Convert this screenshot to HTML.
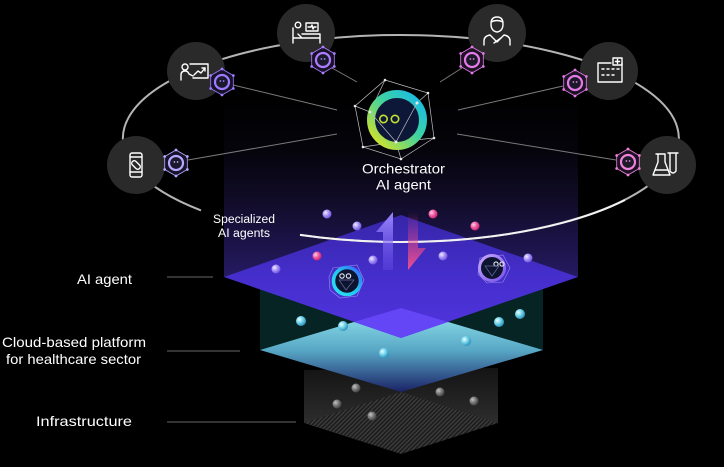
<!DOCTYPE html>
<html><head><meta charset="utf-8">
<style>
html,body{margin:0;padding:0;background:#000;}
svg{display:block;}
text{font-family:"Liberation Sans",sans-serif;fill:#fff;}
</style></head>
<body>
<svg width="724" height="467" viewBox="0 0 724 467" xmlns="http://www.w3.org/2000/svg">
<defs>
  <linearGradient id="boxG" x1="0" y1="0" x2="0" y2="1">
    <stop offset="0" stop-color="#000"/>
    <stop offset="0.3" stop-color="#05040b"/>
    <stop offset="0.55" stop-color="#100b24"/>
    <stop offset="0.8" stop-color="#1b1346"/>
    <stop offset="1" stop-color="#251a62"/>
  </linearGradient>
  <linearGradient id="purD" x1="0" y1="215" x2="0" y2="338" gradientUnits="userSpaceOnUse">
    <stop offset="0" stop-color="#3626a8"/>
    <stop offset="0.5" stop-color="#452ecc"/>
    <stop offset="1" stop-color="#5034de"/>
  </linearGradient>
  <linearGradient id="cyD" x1="0" y1="308" x2="0" y2="392" gradientUnits="userSpaceOnUse">
    <stop offset="0" stop-color="#94e6ee"/>
    <stop offset="0.5" stop-color="#58a8c6"/>
    <stop offset="1" stop-color="#1b2266"/>
  </linearGradient>
  <linearGradient id="infG" x1="0" y1="0" x2="0" y2="1">
    <stop offset="0" stop-color="#141414"/>
    <stop offset="1" stop-color="#2d2d2d"/>
  </linearGradient>
  <pattern id="hatch" width="3" height="3" patternUnits="userSpaceOnUse" patternTransform="rotate(45)">
    <rect width="3" height="3" fill="#1c1c1c"/>
    <rect width="1.3" height="3" fill="#3e3e3e"/>
  </pattern>
  <radialGradient id="sLav" cx="0.35" cy="0.35" r="0.7">
    <stop offset="0" stop-color="#f2eeff"/>
    <stop offset="0.5" stop-color="#a690f7"/>
    <stop offset="1" stop-color="#6a50d6"/>
  </radialGradient>
  <radialGradient id="sPink" cx="0.35" cy="0.35" r="0.7">
    <stop offset="0" stop-color="#ffd0e6"/>
    <stop offset="0.5" stop-color="#f05aa0"/>
    <stop offset="1" stop-color="#c02070"/>
  </radialGradient>
  <radialGradient id="sCy" cx="0.35" cy="0.35" r="0.7">
    <stop offset="0" stop-color="#f0fdff"/>
    <stop offset="0.5" stop-color="#6cd2ea"/>
    <stop offset="1" stop-color="#2a8ab4"/>
  </radialGradient>
  <radialGradient id="sGr" cx="0.35" cy="0.35" r="0.7">
    <stop offset="0" stop-color="#c4c4c4"/>
    <stop offset="0.5" stop-color="#777"/>
    <stop offset="1" stop-color="#3c3c3c"/>
  </radialGradient>
  <linearGradient id="orRing" x1="1" y1="0" x2="0" y2="1">
    <stop offset="0" stop-color="#16b8f0"/>
    <stop offset="0.45" stop-color="#3fd3a0"/>
    <stop offset="1" stop-color="#e6e41c"/>
  </linearGradient>
  <linearGradient id="cyRing" x1="1" y1="0" x2="0" y2="1">
    <stop offset="0" stop-color="#3a62ff"/>
    <stop offset="0.5" stop-color="#22c8f0"/>
    <stop offset="1" stop-color="#2ee0f0"/>
  </linearGradient>
  <linearGradient id="puRing" x1="0" y1="0" x2="1" y2="1">
    <stop offset="0" stop-color="#c8a8ff"/>
    <stop offset="1" stop-color="#7a52e8"/>
  </linearGradient>
  <linearGradient id="upA" x1="0" y1="212" x2="0" y2="270" gradientUnits="userSpaceOnUse">
    <stop offset="0" stop-color="#9c88ff"/>
    <stop offset="1" stop-color="#6a50f0" stop-opacity="0.35"/>
  </linearGradient>
  <linearGradient id="dnA" x1="0" y1="212" x2="0" y2="270" gradientUnits="userSpaceOnUse">
    <stop offset="0" stop-color="#e04080" stop-opacity="0"/>
    <stop offset="1" stop-color="#ec4f8e"/>
  </linearGradient>
</defs>

<rect width="724" height="467" fill="#000"/>

<!-- Infrastructure -->
<polygon points="304,370 498,368 498,423 304,423" fill="url(#infG)"/>
<polygon points="304,423 401,392 498,423 401,454" fill="url(#hatch)"/>

<!-- Cloud layer -->
<polygon points="260,282 543,282 543,350 260,350" fill="#052423"/>
<polygon points="260,350 401,308 543,350 401,392" fill="url(#cyD)"/>

<!-- Purple box -->
<rect x="224" y="95" width="354" height="182" fill="url(#boxG)"/>
<polygon points="224,277 401,215 578,277 401,338" fill="url(#purD)"/>
<polygon points="401,308 354,322 401,338 448,322" fill="#6446f6"/>

<!-- grey spheres -->
<g fill="url(#sGr)">
  <circle cx="356" cy="388" r="4.5"/><circle cx="337" cy="404" r="4.5"/>
  <circle cx="372" cy="416" r="4.5"/><circle cx="440" cy="392" r="4.5"/>
  <circle cx="474" cy="401" r="4.5"/>
</g>
<!-- cyan spheres -->
<g fill="url(#sCy)">
  <circle cx="301" cy="321" r="5"/><circle cx="343" cy="326" r="5"/>
  <circle cx="384" cy="353" r="5"/><circle cx="466" cy="341" r="5"/>
  <circle cx="499" cy="322" r="5"/><circle cx="520" cy="314" r="5"/>
</g>

<!-- leader lines -->
<g stroke="#444" stroke-width="1.5">
  <line x1="167" y1="277" x2="213" y2="277"/>
  <line x1="167" y1="351" x2="240" y2="351"/>
  <line x1="167" y1="422" x2="296" y2="422"/>
</g>

<!-- ellipse -->
<path d="M300 234.9 A278 103.5 0 1 0 201 210.4" fill="none" stroke="#b4b4b4" stroke-width="2"/>
<path d="M300 234.9 A278 103.5 0 0 0 625 200" fill="none" stroke="#f2f2f2" stroke-width="2"/>

<!-- spheres on purple -->
<g fill="url(#sLav)">
  <circle cx="327" cy="214" r="4.5"/><circle cx="357" cy="226" r="4.5"/>
  <circle cx="373" cy="260" r="4.5"/><circle cx="443" cy="256" r="4.5"/>
  <circle cx="528" cy="258" r="4.5"/><circle cx="276" cy="269" r="4.5"/>
</g>
<g fill="url(#sPink)">
  <circle cx="433" cy="214" r="4.5"/><circle cx="475" cy="226" r="4.5"/>
  <circle cx="317" cy="256" r="4.5"/>
</g>

<!-- arrows -->
<polygon points="393,212 393,270 383,270 383,232 376,232" fill="url(#upA)"/>
<polygon points="408,212 418,212 418,248 426,248 408,270" fill="url(#dnA)"/>

<!-- agents on diamond -->
<g stroke="#a89cf0" stroke-width="0.6" fill="none" opacity="0.85">
  <polygon points="333,268 357,265 364,280 357,296 340,298 330,290 329,277"/>
  <polygon points="480,258 503,255 510,268 503,282 487,283 478,274"/>
</g>
<circle cx="347" cy="281" r="13.5" fill="#0c1430" stroke="url(#cyRing)" stroke-width="3.6"/>
<g stroke="#e6e6f0" stroke-width="1.1" fill="none">
  <circle cx="342" cy="276" r="2.2"/><circle cx="348.5" cy="276" r="2.2"/>
</g>
<polygon points="339,280 354,280 346,290" fill="none" stroke="#6a6a9a" stroke-width="0.7"/>
<circle cx="492" cy="268" r="12.5" fill="#0c1430" stroke="url(#puRing)" stroke-width="3"/>
<g stroke="#e6e6f0" stroke-width="1.1" fill="none">
  <circle cx="496" cy="264" r="2.1"/><circle cx="502" cy="264" r="2.1"/>
</g>
<polygon points="485,266 499,266 492,276" fill="none" stroke="#6a6a9a" stroke-width="0.7"/>

<!-- connectors to orchestrator -->
<g stroke="#7a7a7a" stroke-width="1">
  <line x1="233" y1="85" x2="337" y2="110"/>
  <line x1="188" y1="160" x2="337" y2="134"/>
  <line x1="332" y1="68" x2="357" y2="82"/>
  <line x1="462" y1="68" x2="440" y2="82"/>
  <line x1="563" y1="86" x2="458" y2="110"/>
  <line x1="616" y1="160" x2="457" y2="134"/>
</g>

<!-- orchestrator -->
<g stroke="#bfbfbf" stroke-width="0.7" fill="none">
  <polygon points="385,80 428,93 434,138 401,159 363,147 355,106"/>
  <polygon points="370,112 417,103 396,142"/>
  <line x1="385" y1="80" x2="370" y2="112"/>
  <line x1="428" y1="93" x2="417" y2="103"/>
  <line x1="363" y1="147" x2="396" y2="142"/>
  <line x1="396" y1="142" x2="401" y2="159"/>
  <line x1="396" y1="142" x2="434" y2="138"/>
  <line x1="355" y1="106" x2="370" y2="112"/>
</g>
<circle cx="397" cy="120" r="26" fill="#0d1838" stroke="url(#orRing)" stroke-width="8"/>
<g stroke="#bfbfbf" stroke-width="0.7" fill="none">
  <polyline points="370,112 396,142 417,103"/>
</g>
<g fill="#e8e8e8">
  <circle cx="385" cy="80" r="1.3"/><circle cx="428" cy="93" r="1.3"/><circle cx="355" cy="106" r="1.3"/>
  <circle cx="370" cy="112" r="1.3"/><circle cx="417" cy="103" r="1.5"/><circle cx="434" cy="138" r="1.3"/>
  <circle cx="363" cy="147" r="1.3"/><circle cx="396" cy="142" r="1.5"/><circle cx="401" cy="159" r="1.3"/>
</g>
<g stroke="#c2e030" stroke-width="1.6" fill="none">
  <circle cx="383.5" cy="119" r="3.7"/><circle cx="395" cy="119" r="3.7"/>
</g>
<text x="403.5" y="173.5" font-size="14" text-anchor="middle" textLength="83" lengthAdjust="spacingAndGlyphs">Orchestrator</text>
<text x="403.5" y="189.5" font-size="14" text-anchor="middle" textLength="55" lengthAdjust="spacingAndGlyphs">AI agent</text>

<text x="244" y="223" font-size="11.5" text-anchor="middle" textLength="62" lengthAdjust="spacingAndGlyphs">Specialized</text>
<text x="244" y="237" font-size="11.5" text-anchor="middle" textLength="52" lengthAdjust="spacingAndGlyphs">AI agents</text>

<!-- left labels -->
<text x="77" y="284" font-size="14" textLength="55" lengthAdjust="spacingAndGlyphs">AI agent</text>
<text x="2" y="347" font-size="14" textLength="144" lengthAdjust="spacingAndGlyphs">Cloud-based platform</text>
<text x="6" y="364" font-size="14" textLength="135" lengthAdjust="spacingAndGlyphs">for healthcare sector</text>
<text x="36" y="426" font-size="14" textLength="96" lengthAdjust="spacingAndGlyphs">Infrastructure</text>

<!-- icon circles -->
<g fill="#2a2a2a">
  <circle cx="136" cy="165" r="29"/>
  <circle cx="196" cy="71" r="29"/>
  <circle cx="306" cy="33" r="29"/>
  <circle cx="497" cy="33" r="29"/>
  <circle cx="609" cy="71" r="29"/>
  <circle cx="667" cy="165" r="29"/>
</g>

<!-- icons -->
<g stroke="#fff" stroke-width="1.4" fill="none" stroke-linecap="round" stroke-linejoin="round">
  <!-- phone -->
  <rect x="130" y="153" width="12" height="24" rx="2"/>
  <line x1="130" y1="157" x2="142" y2="157"/>
  <line x1="130" y1="172" x2="142" y2="172"/>
  <rect x="133.5" y="160" width="5" height="10" rx="2.5" transform="rotate(-45 136 165)"/>
  <!-- presentation -->
  <circle cx="185" cy="67" r="3"/>
  <path d="M181 80 V75 Q181 71 185 71 Q188 71 189 74 L193 76"/>
  <path d="M190 64 H208 V78 H193"/>
  <polyline points="194,75 198,71 201,73 205,68"/>
  <polyline points="202,68 205,68 205,71"/>
  <!-- bed -->
  <circle cx="298" cy="25" r="2.8"/>
  <rect x="306" y="23" width="12" height="8"/>
  <polyline points="308,27 311,27 312,25 313,29 314,27 316,27"/>
  <path d="M293 28 V43 M293 38 H320 M320 34 V43 M298 34 L302 38 M302 34 H320"/>
  <!-- doctor -->
  <path d="M491 24 Q491 17 497 17 Q503 17 503 24 Q503 31 497 32 Q491 31 491 24 Z"/>
  <path d="M491 22 Q497 19 503 22"/>
  <path d="M484 45 V41 Q484 36 490 35 L497 42 L504 35 Q510 36 510 41 V45"/>
  <path d="M494 43 L501 38"/>
  <!-- building -->
  <path d="M611 63 H598 V82 H622 V63"/>
  <rect x="613" y="58" width="9" height="7"/>
  <path d="M617.5 59.5 V63.5 M615.5 61.5 H619.5"/>
  <path d="M602 69 H604 M607 69 H609 M612 69 H614 M617 69 H619 M602 75 H604 M607 75 H609 M612 75 H614"/>
  <!-- lab -->
  <path d="M656 154 H665 M658 154 V162 L653 175 H670 L665 162 V154"/>
  <path d="M655 170 H668"/>
  <path d="M670 153 V171 Q673 175 676 171 V153 M668 153 H678"/>
</g>

<!-- hex badges -->
<g id="badges">
  <g transform="translate(176,163)" stroke="#b9a8ff">
    <polygon points="0,-13 11.3,-6.5 11.3,6.5 0,13 -11.3,6.5 -11.3,-6.5" fill="#16122a" stroke-width="0.8"/>
    <g fill="#b9a8ff" stroke="none"><circle cx="0" cy="-13" r="1.4"/><circle cx="11.3" cy="-6.5" r="1.4"/><circle cx="11.3" cy="6.5" r="1.4"/><circle cx="0" cy="13" r="1.4"/><circle cx="-11.3" cy="6.5" r="1.4"/><circle cx="-11.3" cy="-6.5" r="1.4"/></g>
    <circle r="7" fill="#1a1a2c" stroke-width="2.2"/>
    <g fill="#b9a8ff" stroke="none"><circle cx="-1.6" cy="-1" r="0.9"/><circle cx="1.6" cy="-1" r="0.9"/></g>
  </g>
  <g transform="translate(222,82)" stroke="#9f7bff">
    <polygon points="0,-13 11.3,-6.5 11.3,6.5 0,13 -11.3,6.5 -11.3,-6.5" fill="#16122a" stroke-width="0.8"/>
    <g fill="#9f7bff" stroke="none"><circle cx="0" cy="-13" r="1.4"/><circle cx="11.3" cy="-6.5" r="1.4"/><circle cx="11.3" cy="6.5" r="1.4"/><circle cx="0" cy="13" r="1.4"/><circle cx="-11.3" cy="6.5" r="1.4"/><circle cx="-11.3" cy="-6.5" r="1.4"/></g>
    <circle r="7" fill="#1a1a2c" stroke-width="2.2"/>
    <g fill="#9f7bff" stroke="none"><circle cx="-1.6" cy="-1" r="0.9"/><circle cx="1.6" cy="-1" r="0.9"/></g>
  </g>
  <g transform="translate(323,60)" stroke="#b07cff">
    <polygon points="0,-13 11.3,-6.5 11.3,6.5 0,13 -11.3,6.5 -11.3,-6.5" fill="#16122a" stroke-width="0.8"/>
    <g fill="#b07cff" stroke="none"><circle cx="0" cy="-13" r="1.4"/><circle cx="11.3" cy="-6.5" r="1.4"/><circle cx="11.3" cy="6.5" r="1.4"/><circle cx="0" cy="13" r="1.4"/><circle cx="-11.3" cy="6.5" r="1.4"/><circle cx="-11.3" cy="-6.5" r="1.4"/></g>
    <circle r="7" fill="#1a1a2c" stroke-width="2.2"/>
    <g fill="#b07cff" stroke="none"><circle cx="-1.6" cy="-1" r="0.9"/><circle cx="1.6" cy="-1" r="0.9"/></g>
  </g>
  <g transform="translate(472,60)" stroke="#e47ae8">
    <polygon points="0,-13 11.3,-6.5 11.3,6.5 0,13 -11.3,6.5 -11.3,-6.5" fill="#1c1224" stroke-width="0.8"/>
    <g fill="#e47ae8" stroke="none"><circle cx="0" cy="-13" r="1.4"/><circle cx="11.3" cy="-6.5" r="1.4"/><circle cx="11.3" cy="6.5" r="1.4"/><circle cx="0" cy="13" r="1.4"/><circle cx="-11.3" cy="6.5" r="1.4"/><circle cx="-11.3" cy="-6.5" r="1.4"/></g>
    <circle r="7" fill="#1c1a28" stroke-width="2.2"/>
    <g fill="#e47ae8" stroke="none"><circle cx="-1.6" cy="-1" r="0.9"/><circle cx="1.6" cy="-1" r="0.9"/></g>
  </g>
  <g transform="translate(575,83)" stroke="#e47ae8">
    <polygon points="0,-13 11.3,-6.5 11.3,6.5 0,13 -11.3,6.5 -11.3,-6.5" fill="#1c1224" stroke-width="0.8"/>
    <g fill="#e47ae8" stroke="none"><circle cx="0" cy="-13" r="1.4"/><circle cx="11.3" cy="-6.5" r="1.4"/><circle cx="11.3" cy="6.5" r="1.4"/><circle cx="0" cy="13" r="1.4"/><circle cx="-11.3" cy="6.5" r="1.4"/><circle cx="-11.3" cy="-6.5" r="1.4"/></g>
    <circle r="7" fill="#1c1a28" stroke-width="2.2"/>
    <g fill="#e47ae8" stroke="none"><circle cx="-1.6" cy="-1" r="0.9"/><circle cx="1.6" cy="-1" r="0.9"/></g>
  </g>
  <g transform="translate(628,162)" stroke="#f082dc">
    <polygon points="0,-13 11.3,-6.5 11.3,6.5 0,13 -11.3,6.5 -11.3,-6.5" fill="#1c1224" stroke-width="0.8"/>
    <g fill="#f082dc" stroke="none"><circle cx="0" cy="-13" r="1.4"/><circle cx="11.3" cy="-6.5" r="1.4"/><circle cx="11.3" cy="6.5" r="1.4"/><circle cx="0" cy="13" r="1.4"/><circle cx="-11.3" cy="6.5" r="1.4"/><circle cx="-11.3" cy="-6.5" r="1.4"/></g>
    <circle r="7" fill="#1c1a28" stroke-width="2.2"/>
    <g fill="#f082dc" stroke="none"><circle cx="-1.6" cy="-1" r="0.9"/><circle cx="1.6" cy="-1" r="0.9"/></g>
  </g>
</g>
</svg>
</body></html>
